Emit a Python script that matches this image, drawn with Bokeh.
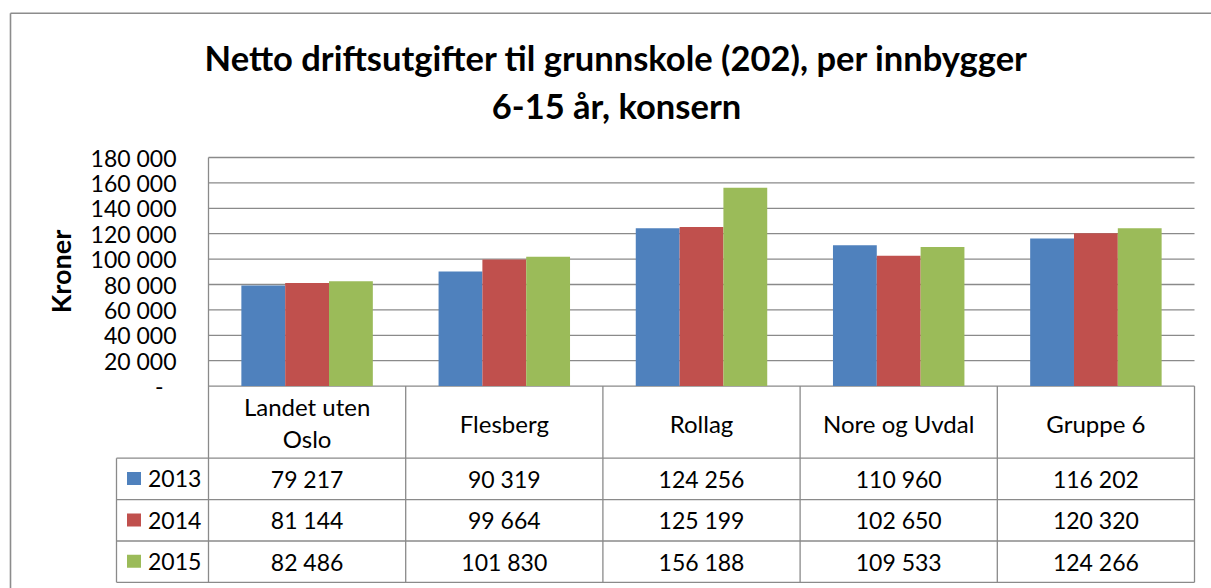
import numpy as np
from bokeh.plotting import figure
from bokeh.models import Range1d
from bokeh.core.properties import value
from bokeh.embed import file_html
from bokeh.resources import INLINE

# ---------------- data ----------------
title_lines = ["Netto driftsutgifter til grunnskole (202), per innbygger", "6-15 år, konsern"]
y_label = "Kroner"
categories = ["Landet uten Oslo", "Flesberg", "Rollag", "Nore og Uvdal", "Gruppe 6"]
category_lines = [["Landet uten", "Oslo"], ["Flesberg"], ["Rollag"], ["Nore og Uvdal"], ["Gruppe 6"]]
years = ["2013", "2014", "2015"]
v2013 = [79217, 90319, 124256, 110960, 116202]
v2014 = [81144, 99664, 125199, 102650, 120320]
v2015 = [82486, 101830, 156188, 109533, 124266]
y_ticks = [0, 20000, 40000, 60000, 80000, 100000, 120000, 140000, 160000, 180000]
colors = ["#4F81BD", "#C0504D", "#9BBB59"]

series = [v2013, v2014, v2015]


def fmt(v):
    return "-" if v == 0 else f"{v:,}".replace(",", " ")


# ---------------- layout (page pixels) ----------------
W, H = 1211, 588
OX, OY = 0, 0
PL, PR = 208.0, 1194.0          # plot area left / right
PT, PB = 157.0, 385.6           # y of max tick / y of zero
YMAX = y_ticks[-1]
ROWS = [385.6, 457.7, 499.1, 540.5, 581.8]   # table horizontal lines
ROW_MID = [478.4, 519.8, 561.2]
LEG_L = 116.0
GRID_C = "#8a8a8a"
FONT = value("Lato")

ncat = len(categories)
cw = (PR - PL) / ncat
k = (PB - PT) / YMAX

p = figure(width=W, height=H,
           x_range=Range1d(OX, OX + W), y_range=Range1d(OY + H, OY),
           output_backend="svg", toolbar_location=None,
           x_axis_location=None, y_axis_location=None,
           min_border=0, outline_line_color=None,
           background_fill_color="white", border_fill_color="white")
p.xgrid.grid_line_color = None
p.ygrid.grid_line_color = None
p.extra_x_ranges = {"cat": Range1d((OX - PL) / cw, (OX + W - PL) / cw)}
p.extra_y_ranges = {"val": Range1d((PB - (OY + H)) / k, (PB - OY) / k)}

# outer chart border
p.line(x=[10, OX + W], y=[12.7, 12.7], line_color="#8c8c8c", line_width=1.6)
p.line(x=[10, 10], y=[12.7, OY + H], line_color="#8c8c8c", line_width=1.6)

# grid lines
p.segment(x0=[0] * len(y_ticks), x1=[ncat] * len(y_ticks), y0=y_ticks, y1=y_ticks,
          x_range_name="cat", y_range_name="val", line_color=GRID_C, line_width=1.3)

# bars
bw = (2.0 / 3.0) / len(series)
idx = np.arange(ncat) + 0.5
for j, vals in enumerate(series):
    p.vbar(x=idx + (j - 1) * bw, top=vals, bottom=0, width=bw,
           x_range_name="cat", y_range_name="val",
           fill_color=colors[j], line_color=None)

# y axis line (extends through table)
p.segment(x0=[PL], x1=[PL], y0=[PT], y1=[ROWS[-1]], line_color=GRID_C, line_width=1.3)

# table lines
p.segment(x0=list(range(1, ncat + 1)), x1=list(range(1, ncat + 1)),
          y0=[ROWS[0]] * ncat, y1=[ROWS[-1]] * ncat,
          x_range_name="cat", line_color=GRID_C, line_width=1.3)
p.segment(x0=[LEG_L] * 4, x1=[PR] * 4, y0=ROWS[1:], y1=ROWS[1:],
          line_color=GRID_C, line_width=1.3)
p.segment(x0=[LEG_L], x1=[LEG_L], y0=[ROWS[1]], y1=[ROWS[-1]],
          line_color=GRID_C, line_width=1.3)

# y tick labels
offs = [-45 if t == 0 else -32 for t in y_ticks]
p.text(x=[0] * len(y_ticks), y=y_ticks, text=[fmt(t) for t in y_ticks],
       x_offset=offs, x_range_name="cat", y_range_name="val",
       text_align="right", text_baseline="middle",
       text_font=FONT, text_font_size="23px", text_color="black")

# y label
p.text(x=[60], y=[271], text=[y_label], angle=np.pi / 2,
       text_align="center", text_baseline="middle",
       text_font=FONT, text_font_size="27px", text_font_style="bold", text_color="black")

# title
p.text(x=[616, 616], y=[57, 105], text=title_lines,
       text_align="center", text_baseline="middle",
       text_font=FONT, text_font_size="34.5px", text_font_style="bold", text_color="black")

# category header
hx, hy, ht = [], [], []
for i, lines in enumerate(category_lines):
    if len(lines) == 1:
        hx.append(i + 0.5); hy.append(422.5); ht.append(lines[0])
    else:
        for ln, yy in zip(lines, [406.3, 438.3]):
            hx.append(i + 0.5); hy.append(yy); ht.append(ln)
p.text(x=hx, y=hy, text=ht, x_range_name="cat",
       text_align="center", text_baseline="middle",
       text_font=FONT, text_font_size="24px", text_color="black")

# table values + legend
for j, vals in enumerate(series):
    p.text(x=list(idx), y=[ROW_MID[j]] * ncat, text=[fmt(v) for v in vals],
           x_range_name="cat", text_align="center", text_baseline="middle",
           text_font=FONT, text_font_size="23px", text_color="black")
    p.rect(x=[133.5], y=[ROW_MID[j] - 0.4], width=14, height=13,
           fill_color=colors[j], line_color=None)
p.text(x=[147.5] * 3, y=ROW_MID, text=years,
       text_align="left", text_baseline="middle",
       text_font=FONT, text_font_size="23px", text_color="black")

open("out.html", "w").write(file_html(p, INLINE))
